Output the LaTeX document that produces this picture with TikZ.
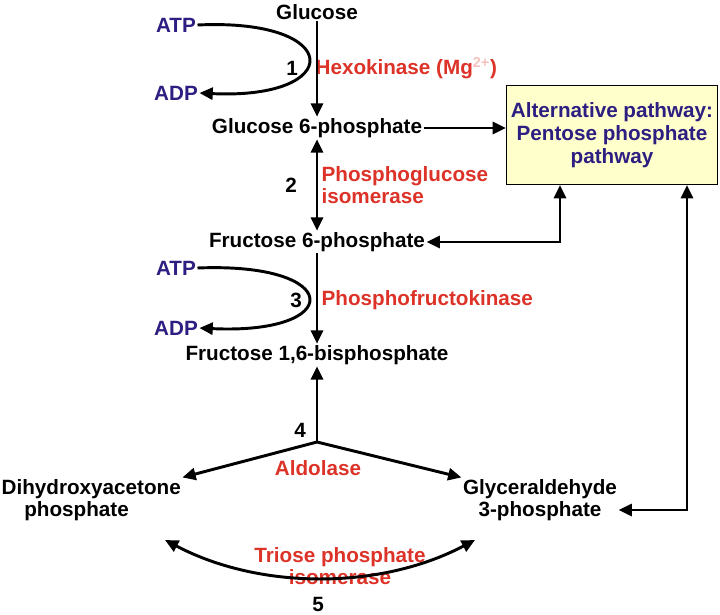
\documentclass[tikz,border=0pt]{standalone}
\usepackage{fontspec}
\setmainfont{Liberation Sans}
\usetikzlibrary{arrows.meta}
\definecolor{navy}{RGB}{45,30,130}
\definecolor{enzred}{RGB}{220,50,40}
\definecolor{boxfill}{RGB}{255,255,204}
\begin{document}
\begin{tikzpicture}[x=0.75pt,y=-0.75pt,
        met/.style={font=\bfseries\fontsize{15.5}{17}\selectfont, inner sep=1pt},
        cof/.style={met, text=navy},
        enz/.style={met, text=enzred, align=left, anchor=west},
        stepno/.style={met},
        arrow/.style={-{Triangle[length=10pt,width=9pt]}, line width=2.2pt},
        darrow/.style={{Triangle[length=10pt,width=9pt]}-{Triangle[length=10pt,width=9pt]}, line width=2.2pt}
    ]
        \useasboundingbox (0,0) rectangle (720,614);

        % Metabolites
        \node[met] (Glc) at (317,12) {Glucose};
        \node[met] (G6P) at (317,128) {Glucose 6-phosphate};
        \node[met] (F6P) at (317,242) {Fructose 6-phosphate};
        \node[met] (F16) at (317,355) {Fructose 1,6-bisphosphate};
        \node[met, align=left, anchor=west] (DHAP) at (0,500) {Dihydroxyacetone\\\hspace*{1.1em}phosphate};
        \node[met, align=center] (GAP) at (540,500) {Glyceraldehyde\\3-phosphate};

        % Alternative pathway box
        \node[met, text=navy, draw, line width=1pt, fill=boxfill, align=center, minimum width=158pt, minimum height=74pt]
            (PPP) at (612,135) {Alternative pathway:\\Pentose phosphate\\pathway};

        % Cofactors
        \node[cof] (ATP1) at (176,25) {ATP};
        \node[cof] (ADP1) at (176,93) {ADP};
        \node[cof] (ATP2) at (176,268) {ATP};
        \node[cof] (ADP2) at (176,328) {ADP};

        % Step numbers and enzymes
        \node[stepno] at (292,68) {1};
        \node[enz] at (314,68) {Hexokinase (Mg\textsuperscript{\color{enzred!30}2+})};
        \node[stepno] at (291,185) {2};
        \node[enz] at (320,185) {Phosphoglucose\\isomerase};
        \node[stepno] at (296,300) {3};
        \node[enz] at (320,300) {Phosphofructokinase};
        \node[stepno] at (300,430) {4};
        \node[met, text=enzred] at (318,468) {Aldolase};
        \node[met, text=enzred, align=center] at (340,566) {Triose phosphate\\isomerase};
        \node[stepno] at (318,604) {5};
        \coordinate (split) at (317,442);
        \coordinate (pppL) at (560,242);
        \coordinate (pppR) at (687,510);

        % Reactions
        \draw[arrow] (Glc) -- (G6P);
        \draw[arrow] (ATP1.east) .. controls (345,18) and (345,100) .. (ADP1.east);
        \draw[darrow] (G6P) -- (F6P);
        \draw[arrow] (F6P) -- (F16);
        \draw[arrow] (ATP2.east) .. controls (345,262) and (345,335) .. (ADP2.east);
        \draw[arrow] (split) -- (F16);
        \draw[arrow] (split) -- (DHAP.north east);
        \draw[arrow] (split) -- (GAP.north west);
        \draw[darrow] (165,540) .. controls (260,590) and (380,590) .. (475,540);

        % Links to pentose phosphate pathway
        \draw[arrow] (G6P) -- (PPP.west |- G6P);
        \draw[darrow] (F6P) -- (pppL) -- (PPP.south -| pppL);
        \draw[darrow] (GAP.east |- pppR) -- (pppR) -- (PPP.south -| pppR);
    \end{tikzpicture}
\end{document}
